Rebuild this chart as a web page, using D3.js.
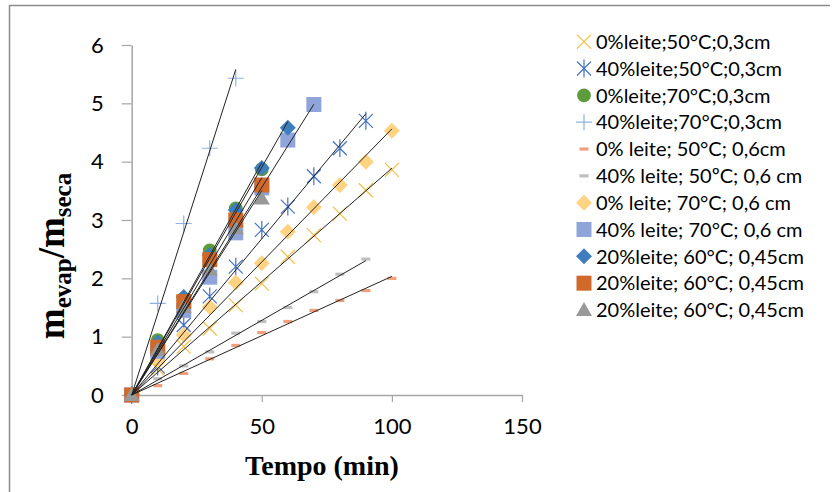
<!DOCTYPE html>
<html>
<head>
<meta charset="utf-8">
<script src="https://cdn.jsdelivr.net/npm/d3@7"></script>
<style>
  body { margin: 0; background: #fff; }
  svg { display: block; }
</style>
</head>
<body>
<div id="chart"></div>
<script>
// data (tempo in min, m_evap/m_seca)
const tempo = [0, 10, 20, 30, 40, 50, 60, 70, 80, 90, 100];

const names = [
  "0%leite;50°C;0,3cm",
  "40%leite;50°C;0,3cm",
  "0%leite;70°C;0,3cm",
  "40%leite;70°C;0,3cm",
  "0% leite; 50°C; 0,6cm",
  "40% leite; 50ºC; 0,6 cm",
  "0% leite; 70°C; 0,6 cm",
  "40% leite; 70°C; 0,6 cm",
  "20%leite; 60°C; 0,45cm",
  "20%leite; 60°C; 0,45cm",
  "20%leite; 60°C; 0,45cm"
];

const s0_50_03 = [0, 0.45, 0.83, 1.14, 1.54, 1.91, 2.37, 2.74, 3.11, 3.51, 3.86];
const s40_50_03 = [0, 0.49, 1.20, 1.69, 2.20, 2.83, 3.23, 3.75, 4.23, 4.70];
const s0_70_03 = [0, 0.94, 1.65, 2.48, 3.20, 3.87];
const s40_70_03 = [0, 1.57, 2.94, 4.23, 5.43];
const s0_50_06 = [0, 0.16, 0.37, 0.62, 0.85, 1.07, 1.26, 1.45, 1.62, 1.79, 2.00];
const s40_50_06 = [0, 0.28, 0.50, 0.74, 1.06, 1.26, 1.50, 1.77, 2.07, 2.33];
const s0_70_06 = [0, 0.59, 1.03, 1.51, 1.93, 2.26, 2.80, 3.22, 3.60, 4.00, 4.53];
const s40_70_06 = [0, 0.75, 1.45, 2.02, 2.78, 3.55, 4.37, 4.98];
const s20_a = [0, 0.90, 1.68, 2.40, 3.17, 3.89, 4.58];
const s20_b = [0, 0.82, 1.60, 2.32, 3.00, 3.60];
const s20_c = [0, 0.77, 1.51, 2.15, 2.86, 3.37];

const xTicks = [0, 50, 100, 150];
const yTicks = [0, 1, 2, 3, 4, 5, 6];

const seriesValues = [s0_50_03, s40_50_03, s0_70_03, s40_70_03, s0_50_06, s40_50_06,
                      s0_70_06, s40_70_06, s20_a, s20_b, s20_c];
const markers = ["x", "asterisk", "circle", "plus", "dash", "dash",
                 "diamond", "square", "diamond", "square", "triangle"];
const colors = ["#F2BF45", "#4472C4", "#5E9C3B", "#8DB3E2", "#F0A07E", "#BFBFBF",
                "#FFD382", "#8FA4D8", "#3F7EBD", "#D0692A", "#999999"];

const series = seriesValues.map((vals, i) => ({
  name: names[i],
  marker: markers[i],
  color: colors[i],
  points: vals.map((v, j) => ({t: tempo[j], v: v}))
}));

const W = 832, H = 492;
const svg = d3.select("#chart").append("svg")
  .attr("width", W).attr("height", H);

// frame
svg.append("path")
  .attr("d", "M9.5,492 L9.5,5.5 L830,5.5")
  .attr("fill", "none").attr("stroke", "#8c8c8c").attr("stroke-width", 1.5);

const x = d3.scaleLinear().domain([0, 150]).range([131.7, 522]);
const y = d3.scaleLinear().domain([0, 6]).range([395, 45]);

// axes
const gx = svg.append("g")
  .attr("transform", "translate(0," + y(0) + ")")
  .call(d3.axisBottom(x).tickValues(xTicks).tickSize(7).tickPadding(16).tickSizeOuter(0));
const gy = svg.append("g")
  .attr("transform", "translate(" + x(0) + ",0)")
  .call(d3.axisLeft(y).tickValues(yTicks).tickFormat(d3.format("d"))
    .tickSize(10).tickPadding(18).tickSizeOuter(0));

[gx, gy].forEach(g => {
  g.select(".domain").attr("stroke", "#a6a6a6").attr("stroke-width", 1.5);
  g.selectAll(".tick line").attr("stroke", "#a6a6a6").attr("stroke-width", 1.2);
  g.selectAll(".tick text")
    .attr("fill", "#000")
    .style("font-family", "Lato, 'Open Sans', sans-serif")
    .style("font-size", "22px");
});

// marker shapes
function markerPath(type) {
  switch (type) {
    case "x": return "M-7,-7L7,7M-7,7L7,-7";
    case "asterisk": return "M-7,-7L7,7M-7,7L7,-7M0,-9L0,9";
    case "plus": return "M-8,0L8,0M0,-8L0,8";
    case "dash": return "M-4.5,-1.6L4.5,-1.6L4.5,1.6L-4.5,1.6Z";
    case "diamond": return "M0,-8L8,0L0,8L-8,0Z";
    case "square": return "M-7.5,-7.5L7.5,-7.5L7.5,7.5L-7.5,7.5Z";
    case "triangle": return "M0,-8L8,6L-8,6Z";
    case "circle": return d3.symbol().type(d3.symbolCircle).size(150)();
  }
}
const lineMarker = m => m === "x" || m === "asterisk" || m === "plus";

function drawMarker(sel, s) {
  sel.attr("d", markerPath(s.marker))
    .attr("fill", lineMarker(s.marker) ? "none" : s.color)
    .attr("stroke", lineMarker(s.marker) ? s.color : "none")
    .attr("stroke-width", lineMarker(s.marker) ? 1.2 : 0);
}

// points
series.forEach(s => {
  svg.append("g").selectAll("path")
    .data(s.points)
    .join("path")
    .attr("transform", d => "translate(" + x(d.t) + "," + y(d.v) + ")")
    .call(sel => drawMarker(sel, s));
});

// linear trendlines through the origin
series.forEach(s => {
  const sxy = d3.sum(s.points, d => d.t * d.v);
  const sxx = d3.sum(s.points, d => d.t * d.t);
  const slope = sxy / sxx;
  const tMax = d3.max(s.points, d => d.t);
  svg.append("line")
    .attr("x1", x(0)).attr("y1", y(0))
    .attr("x2", x(tMax)).attr("y2", y(slope * tMax))
    .attr("stroke", "#222").attr("stroke-width", 1);
});

// axis titles
svg.append("text")
  .attr("x", 322).attr("y", 475)
  .attr("text-anchor", "middle")
  .style("font-family", "'Liberation Serif', 'Times New Roman', serif")
  .style("font-weight", "bold")
  .style("font-size", "28px")
  .text("Tempo (min)");

const yt = svg.append("text")
  .attr("transform", "translate(64,256) rotate(-90)")
  .attr("text-anchor", "middle")
  .style("font-family", "'Liberation Serif', 'Times New Roman', serif")
  .style("font-weight", "bold")
  .style("font-size", "37px");
yt.append("tspan").text("m");
yt.append("tspan").attr("dy", 7).style("font-size", "25px").text("evap");
yt.append("tspan").attr("dy", -7).text("/m");
yt.append("tspan").attr("dy", 7).style("font-size", "25px").text("seca");

// legend
const legend = svg.append("g");
series.forEach((s, i) => {
  const ly = 41.7 + i * 26.83;
  legend.append("path")
    .attr("transform", "translate(584," + ly + ")")
    .call(sel => drawMarker(sel, s));
  legend.append("text")
    .attr("x", 596).attr("y", ly)
    .attr("dy", "0.36em")
    .style("font-family", "Lato, 'Open Sans', sans-serif")
    .style("font-size", "20px")
    .attr("fill", "#000")
    .text(s.name);
});
</script>
</body>
</html>
